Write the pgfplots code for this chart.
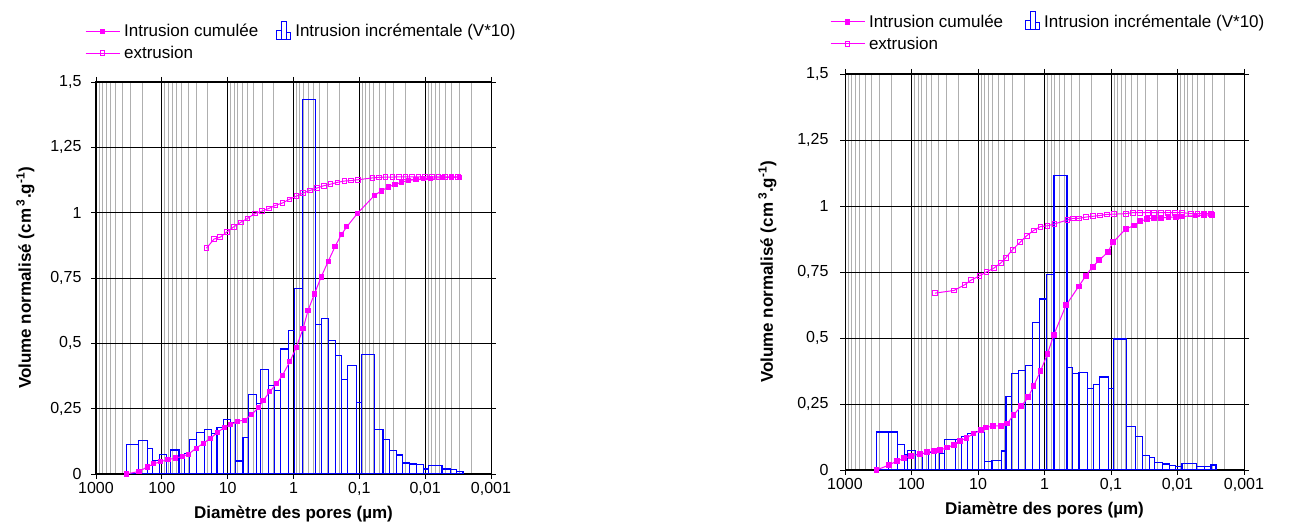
\documentclass[border=0pt]{standalone}
\usepackage{fontspec}
\setmainfont{Liberation Sans}
\usepackage{pgfplots}
\pgfplotsset{compat=1.18}
\definecolor{mag}{RGB}{255,0,255}
\definecolor{hblue}{RGB}{0,0,255}
\definecolor{mgrid}{RGB}{175,175,175}

\pgfplotstableread{
x y
347 0.114
224 0.128
164 0.097
138 0.053
110 0.074
85 0.060
73 0.092
55 0.075
45.7 0.078
38.5 0.133
29.9 0.158
22.4 0.171
17.6 0.155
14.5 0.177
11.5 0.209
9.12 0.197
7.6 0.050
5.85 0.140
4.82 0.303
3.62 0.270
3.13 0.399
2.43 0.338
1.94 0.320
1.58 0.478
1.2 0.550
0.966 0.710
0.724 1.433
0.465 0.573
0.379 0.595
0.296 0.510
0.229 0.452
0.187 0.363
0.151 0.414
0.11 0.274
0.092 0.456
0.0587 0.169
0.0438 0.131
0.0345 0.089
0.0273 0.073
0.0221 0.042
0.0174 0.038
0.0134 0.036
0.0106 0.019
0.0089 0.032
0.00555 0.019
0.00412 0.017
0.00333 0.010
0.00267 0
}\histA

\pgfplotstableread{
x y
340 0
223 0.010
166 0.027
132 0.039
105 0.047
80.5 0.055
62 0.061
48.8 0.067
39.3 0.076
30.1 0.099
23.2 0.118
18.2 0.137
14.3 0.159
11.3 0.178
9.08 0.188
7.14 0.202
5.5 0.206
4.33 0.228
3.4 0.254
2.91 0.280
2.29 0.315
1.8 0.346
1.47 0.378
1.14 0.429
0.912 0.483
0.716 0.556
0.603 0.625
0.481 0.689
0.38 0.754
0.298 0.813
0.234 0.870
0.189 0.915
0.155 0.946
0.107 0.997
0.059 1.066
0.0465 1.083
0.0365 1.098
0.0288 1.108
0.0226 1.117
0.0178 1.123
0.0138 1.127
0.0107 1.130
0.0083 1.132
0.0054 1.134
0.004 1.135
0.003 1.136
}\intrA

\pgfplotstableread{
x y
21 0.864
16.1 0.899
13 0.906
10.2 0.927
8.05 0.946
6.34 0.963
4.99 0.978
3.83 0.997
3.01 1.006
2.37 1.016
1.87 1.028
1.47 1.037
1.16 1.051
0.908 1.063
0.714 1.075
0.562 1.085
0.443 1.094
0.348 1.103
0.274 1.109
0.215 1.116
0.169 1.121
0.133 1.123
0.105 1.126
0.063 1.133
0.05 1.135
0.04 1.136
0.0316 1.136
0.0251 1.137
0.02 1.137
0.0158 1.137
0.0126 1.137
0.01 1.137
0.0079 1.137
0.0063 1.137
0.005 1.137
0.004 1.137
0.00316 1.137
}\extrA

\pgfplotstableread{
x y
336.5 0.144
221 0.144
163 0.097
128 0.057
115 0.075
87.1 0.058
69.2 0.062
55 0.066
43.7 0.072
38 0.064
31.6 0.115
21.7 0.115
17.9 0.126
14.3 0.138
12.1 0.145
9.89 0.142
7.91 0.032
6.17 0.037
4.41 0.072
3.8 0.277
3.15 0.366
2.45 0.378
1.94 0.397
1.53 0.560
1.2 0.648
0.944 0.742
0.718 1.115
0.459 0.389
0.375 0.364
0.303 0.368
0.226 0.308
0.185 0.323
0.149 0.352
0.109 0.308
0.091 0.496
0.058 0.166
0.0423 0.128
0.0333 0.056
0.0264 0.048
0.0221 0.029
0.017 0.023
0.0133 0.018
0.0106 0.013
0.00857 0.025
0.00516 0.013
0.00398 0.013
0.00314 0.019
0.00264 0
}\histB

\pgfplotstableread{
x y
337 0.000
221 0.018
167 0.034
128 0.044
101 0.054
74.3 0.060
58.3 0.067
45.8 0.072
36.9 0.075
29.3 0.085
23 0.095
18.5 0.111
14.9 0.121
11.7 0.138
8.97 0.151
7.48 0.161
5.87 0.167
4.51 0.167
3.62 0.176
2.92 0.209
2.23 0.242
1.75 0.276
1.46 0.318
1.15 0.374
0.902 0.440
0.724 0.512
0.475 0.624
0.307 0.695
0.24 0.735
0.189 0.770
0.151 0.794
0.112 0.825
0.093 0.863
0.06 0.913
0.0448 0.926
0.0362 0.942
0.0286 0.951
0.0226 0.955
0.0178 0.955
0.0137 0.957
0.0106 0.958
0.0085 0.960
0.00535 0.964
0.004 0.965
0.003 0.967
}\intrB

\pgfplotstableread{
x y
44.3 0.670
23 0.680
16 0.701
12.6 0.720
9.53 0.735
7.48 0.750
5.74 0.765
4.51 0.785
3.85 0.803
3.02 0.835
2.32 0.863
1.86 0.887
1.46 0.907
1.15 0.922
0.902 0.925
0.708 0.932
0.453 0.947
0.373 0.953
0.304 0.953
0.239 0.958
0.187 0.961
0.147 0.964
0.116 0.968
0.0908 0.969
0.0594 0.971
0.0467 0.975
0.0363 0.975
0.0282 0.975
0.0224 0.975
0.0178 0.975
0.0138 0.975
0.011 0.975
0.0085 0.975
0.0063 0.971
0.005 0.971
0.004 0.971
0.0031 0.971
}\extrB

\begin{document}
\begin{tikzpicture}
\useasboundingbox (0,0) rectangle (1291pt,532pt);
% ---------------- left panel ----------------
\begin{semilogxaxis}[
    scale only axis,
    at={(96pt,58pt)}, anchor=south west, width=395pt, height=392pt,
    x dir=reverse,
    xmin=0.001, xmax=1000, ymin=0, ymax=1.5,
    xtick={1000,100,10,1,0.1,0.01,0.001},
    xticklabels={1000,100,10,1,{0,1},{0,01},{0,001}},
    minor xtick={900,800,700,600,500,400,300,200,90,80,70,60,50,40,30,20,9,8,7,6,5,4,3,2,0.9,0.8,0.7,0.6,0.5,0.4,0.3,0.2,0.09,0.08,0.07,0.06,0.05,0.04,0.03,0.02,0.009,0.008,0.007,0.006,0.005,0.004,0.003,0.002},
    ytick={0,0.25,0.5,0.75,1,1.25,1.5},
    yticklabels={0,{0,25},{0,5},{0,75},1,{1,25},{1,5}},
    xmajorgrids, ymajorgrids, xminorgrids,
    major grid style={black, line width=0.9pt},
    minor grid style={mgrid, line width=0.9pt},
    axis line style={black, line width=1pt},
    tick align=outside,
    major tick length=5pt, minor tick length=0pt,
    every tick/.style={black, line width=0.9pt},
    tick label style={font=\fontsize{16}{16}\selectfont},
    yticklabel style={xshift=-6pt},
    every axis label/.append style={font=\bfseries\fontsize{17}{18}\selectfont},
    xlabel={Diamètre des pores (µm)},
    ylabel={Volume normalisé (cm\,\textsuperscript{3}.g\textsuperscript{-1})},
    xlabel style={yshift=-3pt},
    ylabel style={yshift=9pt},
    legend columns=2,
    legend cell align=left,
    legend image code/.code={\draw[mark repeat=2,mark phase=2,#1] plot coordinates {(0pt,0pt) (17pt,0pt) (34pt,0pt)};},
    legend style={draw=none, fill=none, font=\fontsize{17}{19}\selectfont,
      row sep=4pt, inner sep=0pt,
      /tikz/every odd column/.append style={column sep=2pt},
      /tikz/every even column/.append style={column sep=16pt},
      at={(-0.028,1.157)}, anchor=north west},
  ]
\addplot[ybar interval, draw=hblue, fill=none, line width=1.2pt, forget plot] table[x=x,y=y] {\histA};
\addplot[draw=mag, line width=1pt, mark=square, mark size=2.3pt, mark options={draw=mag, fill=white, solid, line width=0.9pt}, forget plot] table[x=x,y=y] {\extrA};
\addplot[draw=mag, line width=1pt, mark=square*, mark size=2.1pt, mark options={draw=mag, fill=mag, solid}, forget plot] table[x=x,y=y] {\intrA};
\addlegendimage{draw=mag, line width=1pt, mark=square*, mark size=2.1pt, mark options={draw=mag, fill=mag}}
\addlegendentry{Intrusion cumulée}
\addlegendimage{draw=hblue, line width=1pt, legend image code/.code={%
  \draw[hblue, line width=1pt] (0pt,-8pt) rectangle (5pt,1pt);
  \draw[hblue, line width=1pt] (5pt,-8pt) rectangle (10pt,10pt);
  \draw[hblue, line width=1pt] (10pt,-8pt) rectangle (14pt,-1pt);}}
\addlegendentry{Intrusion incrémentale (V*10)}
\addlegendimage{draw=mag, line width=1pt, mark=square, mark size=2.3pt, mark options={draw=mag, fill=white, line width=0.9pt}}
\addlegendentry{extrusion}
\end{semilogxaxis}
% ---------------- right panel ----------------
\begin{semilogxaxis}[
    scale only axis,
    at={(845pt,62pt)}, anchor=south west, width=399pt, height=396pt,
    x dir=reverse,
    xmin=0.001, xmax=1000, ymin=0, ymax=1.5,
    xtick={1000,100,10,1,0.1,0.01,0.001},
    xticklabels={1000,100,10,1,{0,1},{0,01},{0,001}},
    minor xtick={900,800,700,600,500,400,300,200,90,80,70,60,50,40,30,20,9,8,7,6,5,4,3,2,0.9,0.8,0.7,0.6,0.5,0.4,0.3,0.2,0.09,0.08,0.07,0.06,0.05,0.04,0.03,0.02,0.009,0.008,0.007,0.006,0.005,0.004,0.003,0.002},
    ytick={0,0.25,0.5,0.75,1,1.25,1.5},
    yticklabels={0,{0,25},{0,5},{0,75},1,{1,25},{1,5}},
    xmajorgrids, ymajorgrids, xminorgrids,
    major grid style={black, line width=0.9pt},
    minor grid style={mgrid, line width=0.9pt},
    axis line style={black, line width=1pt},
    tick align=outside,
    major tick length=5pt, minor tick length=0pt,
    every tick/.style={black, line width=0.9pt},
    tick label style={font=\fontsize{16}{16}\selectfont},
    yticklabel style={xshift=-8pt},
    every axis label/.append style={font=\bfseries\fontsize{17}{18}\selectfont},
    xlabel={Diamètre des pores (µm)},
    ylabel={Volume normalisé (cm\,\textsuperscript{3}.g\textsuperscript{-1})},
    xlabel style={yshift=-3pt},
    ylabel style={yshift=14pt},
    legend columns=2,
    legend cell align=left,
    legend image code/.code={\draw[mark repeat=2,mark phase=2,#1] plot coordinates {(0pt,0pt) (17pt,0pt) (34pt,0pt)};},
    legend style={draw=none, fill=none, font=\fontsize{17}{19}\selectfont,
      row sep=4pt, inner sep=0pt,
      /tikz/every odd column/.append style={column sep=2pt},
      /tikz/every even column/.append style={column sep=20pt},
      at={(-0.038,1.159)}, anchor=north west},
  ]
\addplot[ybar interval, draw=hblue, fill=none, line width=1.2pt, forget plot] table[x=x,y=y] {\histB};
\addplot[draw=mag, line width=1pt, mark=square, mark size=2.4pt, mark options={draw=mag, fill=white, solid, line width=0.9pt}, forget plot] table[x=x,y=y] {\extrB};
\addplot[draw=mag, line width=1pt, mark=square*, mark size=2.4pt, mark options={draw=mag, fill=mag, solid}, forget plot] table[x=x,y=y] {\intrB};
\addlegendimage{draw=mag, line width=1pt, mark=square*, mark size=2.4pt, mark options={draw=mag, fill=mag}}
\addlegendentry{Intrusion cumulée}
\addlegendimage{draw=hblue, line width=1pt, legend image code/.code={%
  \draw[hblue, line width=1pt] (0pt,-8pt) rectangle (5pt,1pt);
  \draw[hblue, line width=1pt] (5pt,-8pt) rectangle (10pt,10pt);
  \draw[hblue, line width=1pt] (10pt,-8pt) rectangle (14pt,-1pt);}}
\addlegendentry{Intrusion incrémentale (V*10)}
\addlegendimage{draw=mag, line width=1pt, mark=square, mark size=2.4pt, mark options={draw=mag, fill=white, line width=0.9pt}}
\addlegendentry{extrusion}
\end{semilogxaxis}
\end{tikzpicture}
\end{document}
